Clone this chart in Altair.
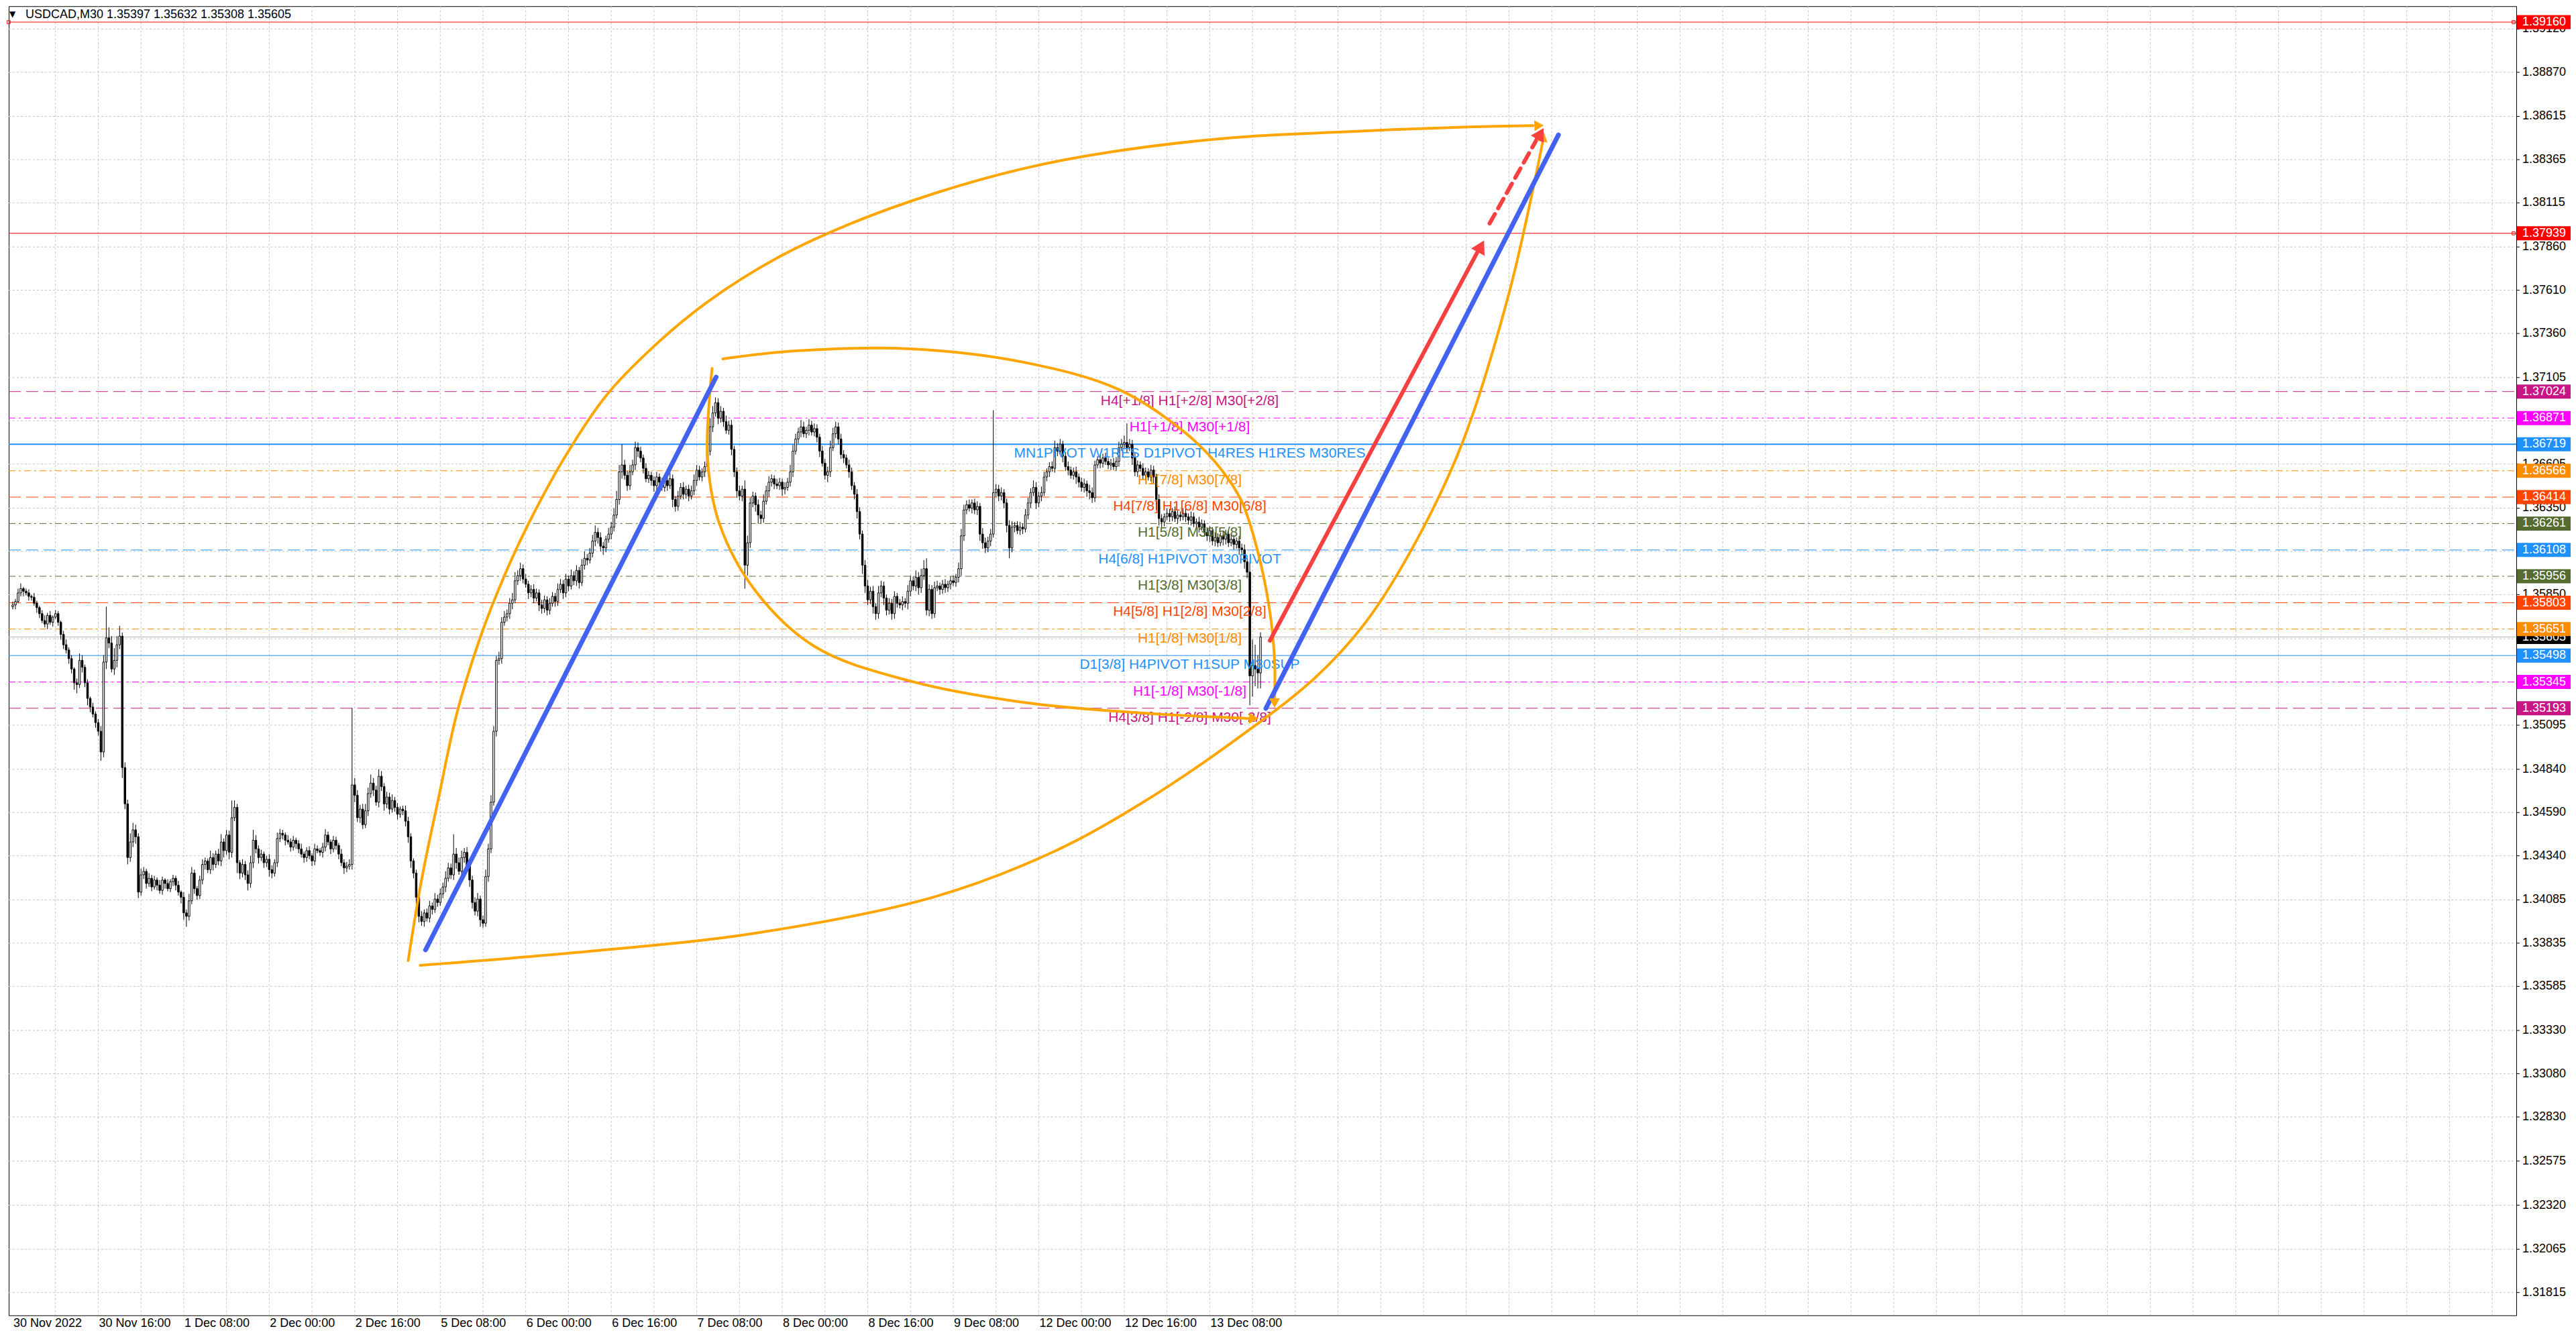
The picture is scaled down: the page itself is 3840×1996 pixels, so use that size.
import altair as alt
import pandas as pd

W, H = 3739, 1952
XDOM = [-0.25, 935.75]
YDOM = [1.31683, 1.39252]
BASE = 130000  # price * 1e5 offset

SYMBOL = "USDCAD,M30"
FIRST_OPEN = 5780

# closes in 1e-5 units above 1.3
CLOSES = [int(v) for v in """
5790 5810 5860 5885 5870 5860 5840 5835 5800 5775
5740 5700 5680 5730 5690 5720 5740 5690 5620 5560
5530 5480 5420 5340 5330 5470 5430 5340 5250 5200
5160 5110 5060 4940 5460 5600 5570 5420 5470 5560
5610 4850 4640 4330 4420 4490 4450 4130 4230 4250
4180 4210 4160 4200 4170 4140 4200 4180 4150 4190
4210 4170 4130 4100 4010 3990 4080 4240 4150 4110
4200 4290 4310 4260 4330 4290 4350 4310 4420 4370
4460 4360 4560 4620 4300 4240 4290 4230 4180 4300
4430 4380 4330 4350 4300 4320 4260 4240 4300 4440
4470 4460 4430 4420 4390 4430 4410 4380 4350 4330
4370 4340 4310 4380 4370 4360 4390 4460 4420 4380
4430 4400 4350 4300 4270 4280 4290 4750 4690 4560
4610 4520 4600 4700 4760 4720 4650 4800 4740 4640
4680 4610 4660 4620 4580 4610 4600 4540 4450 4310
4240 4100 3990 3960 4010 3980 4050 4030 4090 4070
4120 4160 4210 4270 4230 4350 4300 4250 4330 4360
4280 4200 4070 4020 4090 3970 3950 4220 4380 4650
5060 5470 5480 5690 5720 5740 5800 5820 5930 5960
6000 5940 5910 5860 5880 5830 5860 5790 5770 5820
5760 5800 5840 5810 5880 5910 5860 5940 5900 5960
5930 5990 5920 6020 6060 6050 6090 6160 6210 6180
6130 6120 6170 6200 6240 6310 6400 6560 6600 6540
6480 6560 6600 6700 6680 6640 6580 6520 6540 6510
6480 6530 6500 6470 6510 6480 6520 6400 6360 6420
6470 6430 6460 6420 6450 6510 6570 6530 6560 6590
6680 6820 6900 6960 6870 6910 6850 6800 6830 6690
6560 6450 6420 6460 6020 6150 6380 6420 6370 6310
6290 6390 6450 6500 6520 6490 6480 6500 6460 6470
6500 6560 6680 6750 6790 6820 6780 6800 6830 6790
6810 6760 6680 6610 6540 6560 6700 6780 6820 6750
6660 6640 6600 6560 6480 6430 6330 6200 6020 5900
5820 5870 5780 5740 5860 5900 5830 5760 5800 5740
5840 5800 5790 5810 5800 5870 5930 5900 5950 5890
5960 6000 5760 5880 5740 5890 5900 5880 5910 5890
5910 5930 5920 5950 6000 6190 6340 6370 6350 6380
6340 6360 6200 6150 6120 6160 6200 6440 6460 6420
6440 6380 6250 6120 6240 6250 6220 6240 6230 6310
6380 6440 6470 6380 6420 6440 6530 6560 6590 6580
6700 6680 6720 6650 6590 6570 6540 6560 6530 6500
6470 6490 6450 6440 6410 6600 6630 6610 6640 6620
6600 6610 6590 6620 6700 6720 6730 6700 6720 6640
6560 6600 6580 6540 6560 6530 6570 6530 6400 6290
6270 6300 6320 6300 6330 6290 6310 6300 6320 6300
6280 6300 6260 6270 6240 6260 6210 6190 6220 6160
6180 6150 6190 6170 6200 6150 6170 6140 6160 6120
6110 6040 5980 5380 5440 5420 5397 5605
""".split()]

WICK_UP = [int(v) for v in """
20 15 25 30 10 15 20 10 25 15
10 20 30 15 25 10 20 15 10 20
30 15 20 10 25 40 30 15 20 10
25 15 20 30 40 180 60 40 70 50
60 20 30 25 50 40 30 20 35 25
15 30 20 25 15 30 20 10 25 15
20 15 25 10 30 20 40 35 20 15
25 30 20 15 40 25 20 30 45 20
30 25 100 40 20 15 30 20 25 40
60 30 20 25 15 20 30 25 20 35
25 20 15 30 20 25 15 20 30 15
20 25 15 30 20 15 25 35 20 15
25 20 15 30 20 25 30 445 40 30
25 30 40 35 50 30 25 40 30 20
30 25 35 20 25 15 20 30 25 20
15 20 25 30 20 25 30 20 35 25
30 25 40 30 25 115 35 30 40 25
30 20 25 30 35 20 25 40 30 40
30 25 40 30 35 25 30 40 50 30
35 25 30 20 25 30 25 20 30 25
20 30 25 20 35 30 25 30 20 35
25 30 20 35 40 25 30 35 40 25
30 25 20 35 30 40 50 40 120 30
25 40 30 35 30 25 20 30 25 20
25 30 20 25 30 20 35 25 20 30
25 30 20 25 30 35 30 25 20 30
40 50 40 30 25 30 20 35 25 30
20 25 30 20 50 40 30 25 20 30
25 40 30 35 25 20 30 25 20 30
25 40 35 30 25 40 30 20 35 25
30 25 20 30 25 30 40 35 30 25
30 25 20 30 25 20 30 25 20 30
35 25 30 20 40 30 25 20 30 25
30 20 25 30 20 35 30 25 40 30
40 50 60 30 25 35 30 20 25 30
20 25 30 20 35 40 30 25 30 20
25 30 20 35 30 25 30 476 30 25
30 20 25 30 35 20 25 30 20 35
30 25 40 30 25 35 30 20 25 30
40 25 30 20 25 30 20 25 30 20
25 30 20 35 30 25 20 30 25 30
20 25 30 25 35 30 40 110 30 25
30 25 20 30 25 20 30 25 20 30
25 20 30 25 20 30 25 20 30 25
20 30 25 20 30 25 20 30 25 20
30 25 20 30 25 20 30 25 20 30
25 30 20 60 150 120 80 27
""".split()]

WICK_DN = [int(v) for v in """
15 25 10 20 30 15 25 20 15 30
25 15 20 30 15 25 10 20 30 25
20 30 25 40 50 20 30 25 40 30
20 30 25 50 30 40 30 20 35 40
25 60 30 40 25 30 40 35 20 25
30 20 25 15 30 20 25 30 15 20
25 30 20 35 40 60 25 20 30 25
20 25 30 20 25 35 20 25 30 40
25 40 30 20 60 35 25 30 40 25
30 25 35 20 30 25 40 30 20 25
20 25 30 15 25 20 30 25 20 30
25 20 30 25 15 20 30 25 20 30
20 25 30 20 35 25 20 30 40 25
30 25 20 30 25 35 20 30 25 40
25 30 20 25 30 20 25 30 35 40
30 40 35 25 30 20 25 30 20 25
20 25 30 20 25 30 35 20 25 30
30 40 35 25 30 40 25 20 30 25
20 30 25 30 20 25 30 35 20 25
30 25 20 35 25 30 20 35 30 25
30 25 20 30 25 20 35 25 30 20
25 30 35 20 25 30 20 25 30 35
30 40 25 20 30 25 20 30 40 25
30 25 20 30 35 25 30 20 25 30
35 25 30 20 25 30 20 45 30 25
20 30 25 30 20 25 30 20 25 30
20 25 30 20 35 25 30 20 25 35
30 40 25 30 136 60 30 25 40 50
30 25 20 35 25 30 20 25 40 30
20 25 30 20 25 30 20 25 30 20
25 30 35 20 25 40 30 20 25 30
25 30 20 35 25 30 40 30 50 40
30 25 40 35 30 25 40 30 25 35
30 25 20 30 25 35 30 25 30 40
30 25 30 35 30 25 20 30 25 30
25 30 20 25 30 40 30 25 20 30
25 30 40 35 30 25 30 20 25 30
25 30 40 60 25 30 20 25 30 20
25 30 20 35 25 30 20 25 30 20
25 30 20 35 25 30 20 25 40 30
25 30 35 40 30 25 20 30 25 20
25 30 20 25 30 20 25 30 20 40
25 30 20 25 30 20 25 35 60 40
30 25 20 30 25 20 30 25 20 30
25 30 20 25 30 20 25 30 35 25
30 25 20 35 30 25 20 30 25 40
30 40 35 170 120 100 90 89
""".split()]

assert len(CLOSES) == len(WICK_UP) == len(WICK_DN), (len(CLOSES), len(WICK_UP), len(WICK_DN))

# pivot / murrey levels
LEVEL_PRICES = [1.37024, 1.36871, 1.36719, 1.36566, 1.36414, 1.36261, 1.36108,
                1.35956, 1.35803, 1.35651, 1.35498, 1.35345, 1.35193]
LEVEL_TEXT = ["H4[+1/8] H1[+2/8] M30[+2/8]", "H1[+1/8] M30[+1/8]",
              "MN1PIVOT W1RES D1PIVOT H4RES H1RES M30RES", "H1[7/8] M30[7/8]",
              "H4[7/8] H1[6/8] M30[6/8]", "H1[5/8] M30[5/8]", "H4[6/8] H1PIVOT M30PIVOT",
              "H1[3/8] M30[3/8]", "H4[5/8] H1[2/8] M30[2/8]", "H1[1/8] M30[1/8]",
              "D1[3/8] H4PIVOT H1SUP M30SUP", "H1[-1/8] M30[-1/8]", "H4[3/8] H1[-2/8] M30[-2/8]"]
LEVEL_COLOR = ["#C71585", "#FF00FF", "#1E90FF", "#FF8C00", "#FF4500", "#556B2F", "#1E90FF",
               "#556B2F", "#FF4500", "#FF8C00", "#1E90FF", "#FF00FF", "#C71585"]
LEVEL_STYLE = ["dash", "dashdot", "solid2", "dashdot", "dash", "dashdot", "dash",
               "dashdot", "dash", "dashdot", "solid", "dashdot", "dash"]
LABEL_BAR = 440.5
RED_LEVELS = [1.39160, 1.37939]

TICK_VALUES = [1.39120, 1.38870, 1.38615, 1.38365, 1.38115, 1.37860, 1.37610, 1.37360,
               1.37105, 1.36855, 1.36605, 1.36350, 1.36100, 1.35850, 1.35595, 1.35345,
               1.35095, 1.34840, 1.34590, 1.34340, 1.34085, 1.33835, 1.33585, 1.33330,
               1.33080, 1.32830, 1.32575, 1.32320, 1.32065, 1.31815]
GRID_BARS = list(range(16, 936, 16))
XLAB_BARS = list(range(0, 449, 32))
XLAB_TEXT = ["30 Nov 2022", "30 Nov 16:00", "1 Dec 08:00", "2 Dec 00:00", "2 Dec 16:00",
             "5 Dec 08:00", "6 Dec 00:00", "6 Dec 16:00", "7 Dec 08:00", "8 Dec 00:00",
             "8 Dec 16:00", "9 Dec 08:00", "12 Dec 00:00", "12 Dec 16:00", "13 Dec 08:00"]

# drawn objects (bar index, price)
OUTER_UP = [(148.0, 1.33734), (153.0, 1.34200), (159.5, 1.34684), (166.25, 1.35165),
            (175.25, 1.35615), (184.25, 1.35968), (193.0, 1.36259), (206.5, 1.36642),
            (222.0, 1.36999), (240.0, 1.37286), (260.0, 1.37542), (286.75, 1.37802),
            (313.75, 1.37996), (345.0, 1.38170), (378.5, 1.38314), (411.75, 1.38411),
            (456.5, 1.38492), (494.0, 1.38523), (544.75, 1.38554), (569.0, 1.38562)]
OUTER_LO = [(152.5, 1.33707), (211.0, 1.33781), (278.0, 1.33893), (345.0, 1.34103),
            (389.5, 1.34363), (423.0, 1.34649), (456.5, 1.34998), (487.25, 1.35367),
            (506.5, 1.35693), (525.5, 1.36166), (542.75, 1.36736), (560.0, 1.37592),
            (570.5, 1.38306), (572.5, 1.38461)]
INNER_UP = [(265.75, 1.37213), (293.0, 1.37259), (335.75, 1.37271), (378.5, 1.37193),
            (414.25, 1.37034), (439.75, 1.36774), (452.0, 1.36580), (460.0, 1.36387),
            (465.5, 1.36127), (470.0, 1.35801), (472.25, 1.35479), (472.25, 1.35250)]
INNER_LO = [(261.75, 1.37158), (260.0, 1.36642), (264.5, 1.36259), (278.0, 1.35871),
            (300.25, 1.35549), (333.75, 1.35359), (378.25, 1.35227), (423.0, 1.35165),
            (463.0, 1.35134)]
BLUE_LINES = [[(154.5, 1.33796), (263.25, 1.37108)], [(469.0, 1.35192), (578.5, 1.38508)]]
RED_SOLID = [(470.5, 1.35584), (548.0, 1.37825)]
RED_DASH = [(552.75, 1.37996), (570.5, 1.38485)]
ARROWS = [  # bar, price, angle, colour, size
    (571.25, 1.38562, 88, "#FFA500", 260),
    (572.75, 1.38496, 10, "#FFA500", 260),
    (472.25, 1.35223, 180, "#FFA500", 260),
    (464.5, 1.35134, 91, "#FFA500", 260),
    (549.5, 1.37864, 28, "#F84040", 520),
    (571.75, 1.38515, 30, "#F84040", 480),
]

# ---------------------------------------------------------------- helpers
XS = alt.Scale(domain=XDOM, nice=False, zero=False)
YS = alt.Scale(domain=YDOM, nice=False, zero=False)


def X(f):
    return alt.X(f + ":Q", scale=XS, axis=None)


def Y(f):
    return alt.Y(f + ":Q", scale=YS, axis=None)


def px(v):
    return (BASE + v) / 1e5


DASHES = {"dash": [18, 8], "dashdot": [10, 5, 3, 5]}
FONT = "Liberation Sans"

# ---------------------------------------------------------------- data frames
opens = [FIRST_OPEN] + CLOSES[:-1]
rows = []
for i, (o, c, u, d) in enumerate(zip(opens, CLOSES, WICK_UP, WICK_DN)):
    rows.append({"i": i, "o": px(o), "c": px(c),
                 "h": px(max(o, c) + u), "l": px(min(o, c) - d),
                 "fillc": "white" if c >= o else "black"})
candles = pd.DataFrame(rows)
last = rows[-1]
BID = last["c"]

layers = []

# grid
layers.append(alt.Chart(pd.DataFrame({"p": TICK_VALUES})).mark_rule(
    color="#C4C4C4", strokeDash=[3, 3], strokeWidth=1).encode(
    y=Y("p"), x=alt.value(0), x2=alt.value(W)))
layers.append(alt.Chart(pd.DataFrame({"b": GRID_BARS})).mark_rule(
    color="#C4C4C4", strokeDash=[3, 3], strokeWidth=1).encode(
    x=X("b"), y=alt.value(0), y2=alt.value(H)))

# red levels
layers.append(alt.Chart(pd.DataFrame({"p": RED_LEVELS})).mark_rule(
    color="#FF0000", strokeWidth=1).encode(y=Y("p"), x=alt.value(0), x2=alt.value(W)))
layers.append(alt.Chart(pd.DataFrame({"p": RED_LEVELS})).mark_square(
    size=22, filled=False, color="#FF0000", strokeWidth=1, opacity=1).encode(
    y=Y("p"), x=alt.value(W - 4)))
layers.append(alt.Chart(pd.DataFrame({"p": RED_LEVELS[:1]})).mark_square(
    size=22, filled=False, color="#FF0000", strokeWidth=1, opacity=1).encode(
    y=Y("p"), x=alt.value(0)))

# bid line
layers.append(alt.Chart(pd.DataFrame({"p": [BID]})).mark_rule(
    color="#B4B4B4", strokeWidth=1).encode(y=Y("p"), x=alt.value(0), x2=alt.value(W)))

# pivot levels
for p, col, sty in zip(LEVEL_PRICES, LEVEL_COLOR, LEVEL_STYLE):
    kw = {"color": col, "strokeWidth": 2 if sty == "solid2" else 1}
    if sty in DASHES:
        kw["strokeDash"] = DASHES[sty]
    layers.append(alt.Chart(pd.DataFrame({"p": [p]})).mark_rule(**kw).encode(
        y=Y("p"), x=alt.value(0), x2=alt.value(W)))

# candles
layers.append(alt.Chart(candles).mark_rule(color="black", strokeWidth=1).encode(
    x=X("i"), y=Y("l"), y2=alt.Y2("h")))
layers.append(alt.Chart(candles).mark_bar(size=2.5, stroke="black", strokeWidth=1).encode(
    x=X("i"), y=Y("o"), y2=alt.Y2("c"), fill=alt.Fill("fillc:N", scale=None)))

# level labels
lab = pd.DataFrame({"b": [LABEL_BAR] * len(LEVEL_PRICES), "p": LEVEL_PRICES,
                    "t": LEVEL_TEXT, "col": LEVEL_COLOR})
layers.append(alt.Chart(lab).mark_text(font=FONT, fontSize=21, align="center",
                                       baseline="top", dy=3).encode(
    x=X("b"), y=Y("p"), text="t:N", color=alt.Color("col:N", scale=None)))

# curves
crv = []
for name, pts in [("ou", OUTER_UP), ("ol", OUTER_LO), ("iu", INNER_UP), ("il", INNER_LO)]:
    for s, (b, p) in enumerate(pts):
        crv.append({"c": name, "s": s, "b": b, "p": p})
layers.append(alt.Chart(pd.DataFrame(crv)).mark_line(
    interpolate="catmull-rom", color="#FFA500", strokeWidth=4, strokeCap="round").encode(
    x=X("b"), y=Y("p"), detail="c:N", order="s:Q"))

bl = []
for k, pts in enumerate(BLUE_LINES):
    for s, (b, p) in enumerate(pts):
        bl.append({"c": k, "s": s, "b": b, "p": p})
layers.append(alt.Chart(pd.DataFrame(bl)).mark_line(
    color="#4262F2", strokeWidth=7, strokeCap="round").encode(
    x=X("b"), y=Y("p"), detail="c:N", order="s:Q"))

layers.append(alt.Chart(pd.DataFrame({"b": [q[0] for q in RED_SOLID], "p": [q[1] for q in RED_SOLID],
                                      "s": [0, 1]})).mark_line(
    color="#F84040", strokeWidth=6, strokeCap="round").encode(x=X("b"), y=Y("p"), order="s:Q"))
layers.append(alt.Chart(pd.DataFrame({"b": [q[0] for q in RED_DASH], "p": [q[1] for q in RED_DASH],
                                      "s": [0, 1]})).mark_line(
    color="#F84040", strokeWidth=6, strokeDash=[16, 10], strokeCap="round").encode(
    x=X("b"), y=Y("p"), order="s:Q"))

arr = pd.DataFrame(ARROWS, columns=["b", "p", "ang", "col", "sz"])
layers.append(alt.Chart(arr).mark_point(shape="triangle-up", filled=True, opacity=1,
                                        strokeWidth=0).encode(
    x=X("b"), y=Y("p"), angle=alt.Angle("ang:Q", scale=None),
    color=alt.Color("col:N", scale=None), size=alt.Size("sz:Q", scale=None)))

# right price axis
tick_df = pd.DataFrame({"p": TICK_VALUES, "t": [f"{v:.5f}" for v in TICK_VALUES]})
layers.append(alt.Chart(tick_df).mark_rule(color="black", strokeWidth=1).encode(
    y=Y("p"), x=alt.value(W), x2=alt.value(W + 5)))
layers.append(alt.Chart(tick_df).mark_text(font=FONT, fontSize=18, align="left",
                                           baseline="middle", color="black").encode(
    y=Y("p"), x=alt.value(W + 9), text="t:N"))

box_p = [BID] + RED_LEVELS + LEVEL_PRICES
box_c = ["#000000", "#FF0000", "#FF0000"] + LEVEL_COLOR
box_df = pd.DataFrame({"p": box_p, "col": box_c, "t": [f"{v:.5f}" for v in box_p],
                       "o": list(range(len(box_p)))})
for k in range(len(box_p)):
    one = box_df.iloc[[k]]
    layers.append(alt.Chart(one).mark_tick(orient="horizontal", thickness=21, size=80,
                                           opacity=1).encode(
        y=Y("p"), x=alt.value(W + 41), color=alt.Color("col:N", scale=None)))
    layers.append(alt.Chart(one).mark_text(font=FONT, fontSize=18, align="left",
                                           baseline="middle", color="white").encode(
        y=Y("p"), x=alt.value(W + 9), text="t:N"))

# time axis labels
xl = pd.DataFrame({"b": XLAB_BARS, "t": XLAB_TEXT})
layers.append(alt.Chart(xl).mark_text(font=FONT, fontSize=18, align="left",
                                      baseline="middle", color="black", dx=1).encode(
    x=X("b"), y=alt.value(H + 12), text="t:N"))

# header
hdr = f"{SYMBOL}  {last['o']:.5f} {last['h']:.5f} {last['l']:.5f} {last['c']:.5f}"
layers.append(alt.Chart(pd.DataFrame({"t": [hdr]})).mark_text(
    font=FONT, fontSize=18, align="left", baseline="middle", color="black").encode(
    x=alt.value(25), y=alt.value(13), text="t:N"))
layers.append(alt.Chart(pd.DataFrame({"t": ["\u25bc"]})).mark_text(
    font="DejaVu Sans", fontSize=12, align="left", baseline="middle", color="black").encode(
    x=alt.value(1), y=alt.value(12), text="t:N"))

chart = alt.layer(*layers).properties(
    width=W, height=H,
    padding={"left": 0, "top": 0, "right": 0, "bottom": 0},
    background="white",
).configure_view(stroke="black", strokeWidth=1)

chart.save("out.html", embed_options={"renderer": "svg", "actions": False})
